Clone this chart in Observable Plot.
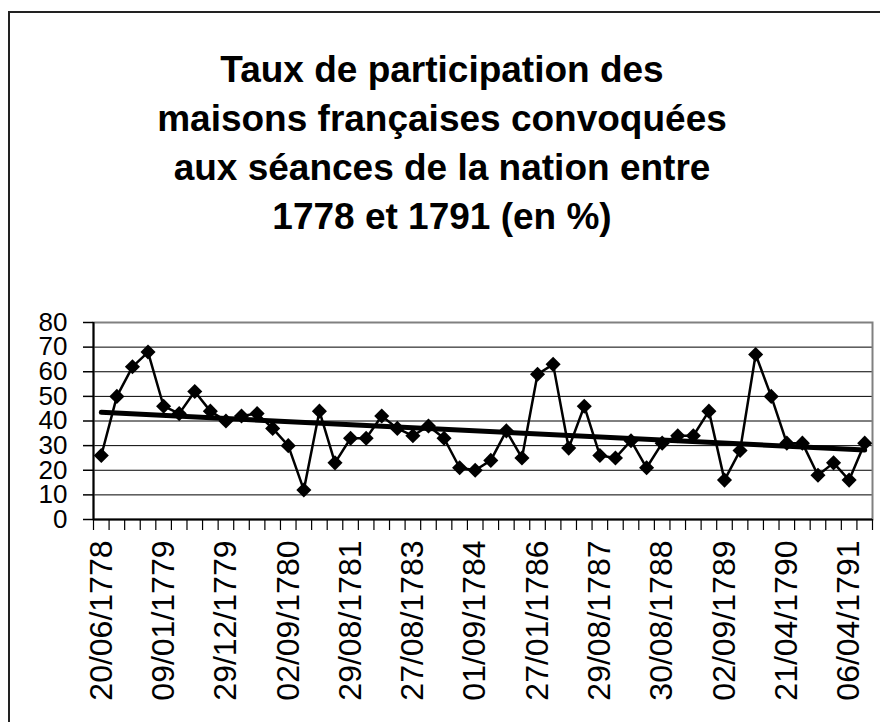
<!DOCTYPE html>
<html><head><meta charset="utf-8">
<script src="https://cdn.jsdelivr.net/npm/d3@7"></script>
<script src="https://cdn.jsdelivr.net/npm/@observablehq/plot@0.6"></script>
<style>
body{margin:0;width:880px;height:722px;overflow:hidden;background:#fff;position:relative;font-family:"Liberation Sans",Arial,sans-serif;}
#frame{position:absolute;left:8px;top:11px;width:1000px;height:1000px;border-left:2px solid #222;border-top:2px solid #222;z-index:2;pointer-events:none;}
#title{position:absolute;left:0;width:884px;top:45px;text-align:center;font-weight:bold;font-size:37px;line-height:49px;color:#000;}
#chart{position:absolute;left:0;top:300px;}
</style></head>
<body><div id="frame"></div>
<div id="title">Taux de participation des<br>maisons françaises convoquées<br>aux séances de la nation entre<br>1778 et 1791 (en %)</div>
<div id="chart"></div>
<script>
// Participation rate (%) per session, in order
const values = [26, 50, 62, 68, 46, 43, 52, 44, 40, 42, 43, 37, 30, 12, 44, 23, 33, 33, 42, 37,
                34, 38, 33, 21, 20, 24, 36, 25, 59, 63, 29, 46, 26, 25, 32, 21, 31, 34, 34, 44,
                16, 28, 67, 50, 31, 31, 18, 23, 16, 31];
// Date labels shown on the x axis (one every 4 sessions)
const tickLabels = ["20/06/1778", "09/01/1779", "29/12/1779", "02/09/1780", "29/08/1781", "27/08/1783",
                    "01/09/1784", "27/01/1786", "29/08/1787", "30/08/1788", "02/09/1789", "21/04/1790", "06/04/1791"];
const labelStep = 4;
const yTicks = [0, 10, 20, 30, 40, 50, 60, 70, 80];

const data = values.map((v, i) => ({i, v}));
const boundaries = d3.range(values.length + 1).map(i => i - 0.5);
const labelIdx = tickLabels.map((_, k) => k * labelStep);

const plot = Plot.plot({
  width: 880,
  height: 422,
  marginLeft: 93,
  marginRight: 8,
  marginTop: 22,
  marginBottom: 203,
  style: {fontFamily: '"Liberation Sans", Arial, sans-serif', color: "#000", background: "none", overflow: "visible"},
  x: {domain: [-0.5, values.length - 0.5], axis: null},
  y: {domain: [0, 80], axis: null},
  marks: [
    Plot.gridY(yTicks.slice(1, -1), {stroke: "#000", strokeOpacity: 1, strokeWidth: 1}),
    Plot.frame({stroke: "#808080", strokeWidth: 2}),
    Plot.axisY({ticks: yTicks, label: null, tickSize: 10, tickPadding: 16, fontSize: 26, stroke: "#000", strokeWidth: 1.5, tickFormat: d => String(d)}),
    Plot.axisX({ticks: boundaries, label: null, tickSize: 11, tickFormat: () => "", stroke: "#000", strokeWidth: 1.2}),
    Plot.axisX({ticks: labelIdx, label: null, tickSize: 0, tickPadding: 21, tickRotate: -90, fontSize: 32, tickFormat: i => tickLabels[i / labelStep]}),
    Plot.ruleX([-0.5], {stroke: "#000", strokeWidth: 2}),
    Plot.ruleY([0], {stroke: "#000", strokeWidth: 2}),
    Plot.line(data, {x: "i", y: "v", stroke: "#000", strokeWidth: 2.5}),
    Plot.dot(data, {x: "i", y: "v", symbol: "diamond2", r: 6.8, fill: "#000", stroke: "none"}),
    Plot.linearRegressionY(data, {x: "i", y: "v", ci: 0, stroke: "#000", strokeWidth: 5})
  ]
});
document.getElementById("chart").appendChild(plot);
</script>
</body></html>
